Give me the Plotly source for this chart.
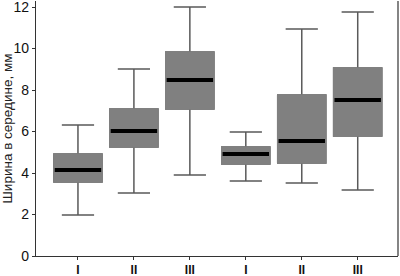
import plotly.graph_objects as go

groups = ["I", "II", "III", "I", "II", "III"]
positions = [0, 1, 2, 3, 4, 5]
lower = [1.98, 3.04, 3.9, 3.61, 3.52, 3.18]
q1 = [3.57, 5.25, 7.08, 4.43, 4.48, 5.78]
median = [4.14, 6.02, 8.48, 4.92, 5.54, 7.52]
q3 = [4.92, 7.08, 9.83, 5.25, 7.76, 9.06]
upper = [6.31, 9.01, 12.0, 5.98, 10.94, 11.76]
y_ticks = [0, 2, 4, 6, 8, 10, 12]

BOX_FILL = "#808080"
WHISKER = "#5a5a5a"
W = 0.86

fig = go.Figure()
# whiskers + box
fig.add_trace(go.Box(x=positions, q1=q1, median=median, q3=q3,
                     lowerfence=lower, upperfence=upper,
                     width=W, whiskerwidth=0.67,
                     fillcolor=BOX_FILL, line=dict(color=WHISKER, width=1.5),
                     showlegend=False, hoverinfo="skip"))
# cover box outline with fill colour
fig.add_trace(go.Box(x=positions, q1=q1, median=median, q3=q3,
                     lowerfence=q1, upperfence=q3,
                     width=W, whiskerwidth=0,
                     fillcolor=BOX_FILL, line=dict(color=BOX_FILL, width=1.5),
                     showlegend=False, hoverinfo="skip"))
# thick black median
fig.add_trace(go.Box(x=positions, q1=median, median=median, q3=median,
                     lowerfence=median, upperfence=median,
                     width=W - 0.03, whiskerwidth=0,
                     fillcolor="black", line=dict(color="black", width=4),
                     showlegend=False, hoverinfo="skip"))

fig.update_layout(
    width=400, height=276,
    margin=dict(l=36, r=2, t=1, b=20),
    paper_bgcolor="white", plot_bgcolor="white",
    boxmode="overlay",
    font=dict(family="Liberation Sans, Arial, sans-serif", color="#222"),
    xaxis=dict(range=[-0.75, 5.72], tickvals=positions, ticktext=groups,
               showgrid=False, zeroline=False, showline=True, linecolor="#333",
               linewidth=1.2, ticks="outside", ticklen=3, tickcolor="#333",
               tickfont=dict(size=12, color="#111", weight="bold"),
               ticklabelstandoff=-1, mirror=False, automargin=False),
    yaxis=dict(range=[0, 12.29], tickvals=y_ticks, showgrid=False, zeroline=False,
               showline=True, linecolor="#333", linewidth=1.2,
               ticks="outside", ticklen=3, tickcolor="#333",
               tickfont=dict(size=14, color="#111"), ticklabeloverflow="allow",
               automargin=False,
               title=dict(text="Ширина в середине, мм", font=dict(size=13.5))),
)
# right border line
fig.add_shape(type="line", xref="paper", yref="paper", x0=1, x1=1, y0=0, y1=1,
              line=dict(color="#333", width=1.2))

fig.write_html("out.html", config={"displayModeBar": False},
               post_script="document.body.style.margin='0';")
